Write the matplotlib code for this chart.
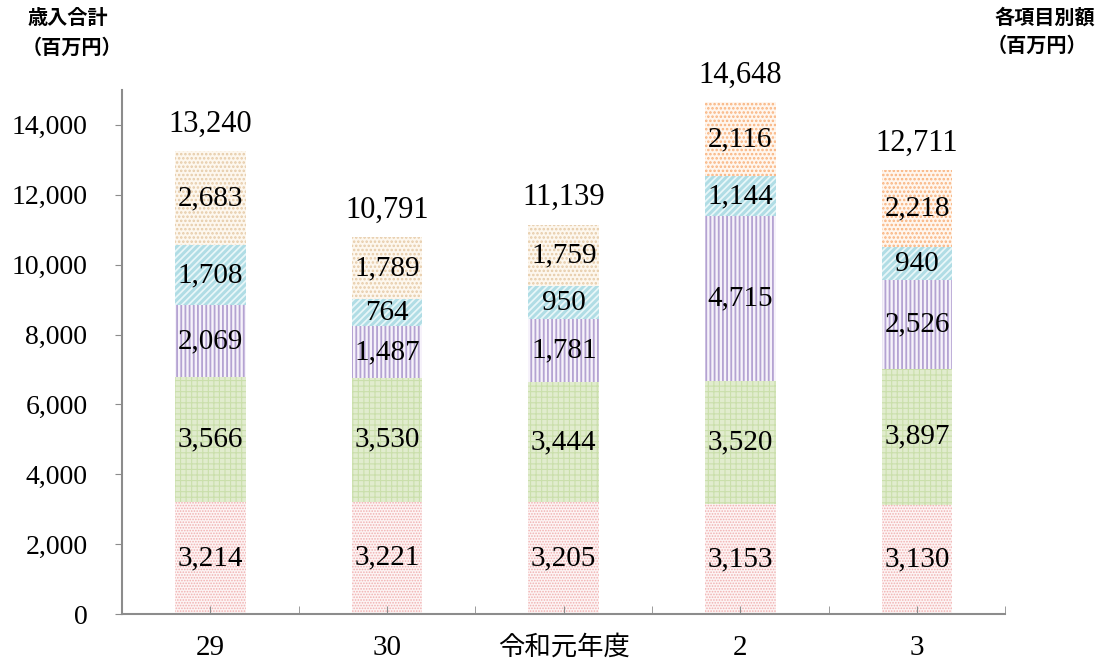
import matplotlib
matplotlib.use("Agg")
import matplotlib.pyplot as plt
import numpy as np

years = ["29", "30", "令和元年度", "2", "3"]
item1 = [3214, 3221, 3205, 3153, 3130]
item2 = [3566, 3530, 3444, 3520, 3897]
item3 = [2069, 1487, 1781, 4715, 2526]
item4 = [1708, 764, 950, 1144, 940]
item5 = [2683, 1789, 1759, 2116, 2218]
totals = [13240, 10791, 11139, 14648, 12711]

plt.rcParams["font.family"] = ["Liberation Serif", "Noto Sans CJK JP"]

fig = plt.figure(figsize=(11, 6.66), dpi=100)
ax = fig.add_axes([0.111, 0.078, 0.803, 0.787])

x = np.arange(len(years))
width = 0.40

# segment styles: (face, hatch colour, hatch, hatch linewidth)
styles = [
    ("#fdf4f4", "#f0b0b0", "......", 0.8),
    ("#e1ecce", "#cadfab", "+++", 0.8),
    ("#f6f2fa", "#b4a2d2", "||||", 1.3),
    ("#b0dde5", "#e8f6f8", "/////", 1.3),
]
series = [item1, item2, item3, item4]

bottom = np.zeros(len(years))
for vals, (fc, hc, h, lw) in zip(series, styles):
    with plt.rc_context({"hatch.linewidth": lw}):
        ax.bar(x, vals, width, bottom=bottom, color=fc, edgecolor=hc,
               hatch=h, linewidth=0)
    for xi, b, v in zip(x, bottom, vals):
        ax.text(xi, b + v / 2, f"{v:,}", ha="center", va="center",
                fontsize=21, color="black")
    bottom += np.array(vals)

# top segment: tan for the first three years, orange afterwards
top_face = ["#fdf7ee", "#fdf7ee", "#fdf7ee", "#fff6ee", "#fff6ee"]
top_hatch = ["#e6cba8", "#e6cba8", "#e6cba8", "#f9b37e", "#f9b37e"]
with plt.rc_context({"hatch.linewidth": 1.2}):
    ax.bar(x, item5, width, bottom=bottom, color=top_face,
           edgecolor=top_hatch, hatch="....", linewidth=0)
for xi, b, v in zip(x, bottom, item5):
    ax.text(xi, b + v / 2, f"{v:,}", ha="center", va="center",
            fontsize=21, color="black")

for xi, t in zip(x, totals):
    ax.annotate(f"{t:,}", (xi, t), xytext=(0, 9), textcoords="offset points",
                ha="center", va="bottom", fontsize=22)

ax.set_xlim(-0.5, len(years) - 0.5)
ax.set_ylim(0, 15000)
ax.set_yticks(np.arange(0, 15000, 2000))
ax.set_yticklabels([f"{v:,}" for v in range(0, 15000, 2000)], fontsize=20)
ax.set_xticks(x)
ax.set_xticklabels(years, fontsize=21)
for lbl in ax.get_xticklabels():
    if lbl.get_text() == "令和元年度":
        lbl.set_fontsize(19)
ax.set_xticks(np.arange(-0.5, len(years), 1.0), minor=True)

for s in ["top", "right"]:
    ax.spines[s].set_visible(False)
for s in ["left", "bottom"]:
    ax.spines[s].set_color("#8c8c8c")
    ax.spines[s].set_linewidth(1.5)

ax.tick_params(axis="y", direction="out", length=5, color="#8c8c8c", pad=20)
ax.tick_params(axis="x", which="both", direction="in", length=6,
               color="#8c8c8c", pad=15)

jp = ["Noto Sans CJK JP"]
fig.text(0.025, 0.973, "歳入合計", fontsize=14.5, fontweight="bold",
         family=jp, ha="left", va="center")
fig.text(0.020, 0.929, "（百万円）", fontsize=14.5, fontweight="bold",
         family=jp, ha="left", va="center")
fig.text(0.996, 0.974, "各項目別額", fontsize=14.5, fontweight="bold",
         family=jp, ha="right", va="center")
fig.text(0.988, 0.932, "（百万円）", fontsize=14.5, fontweight="bold",
         family=jp, ha="right", va="center")

fig.savefig("out.png", dpi=100)
